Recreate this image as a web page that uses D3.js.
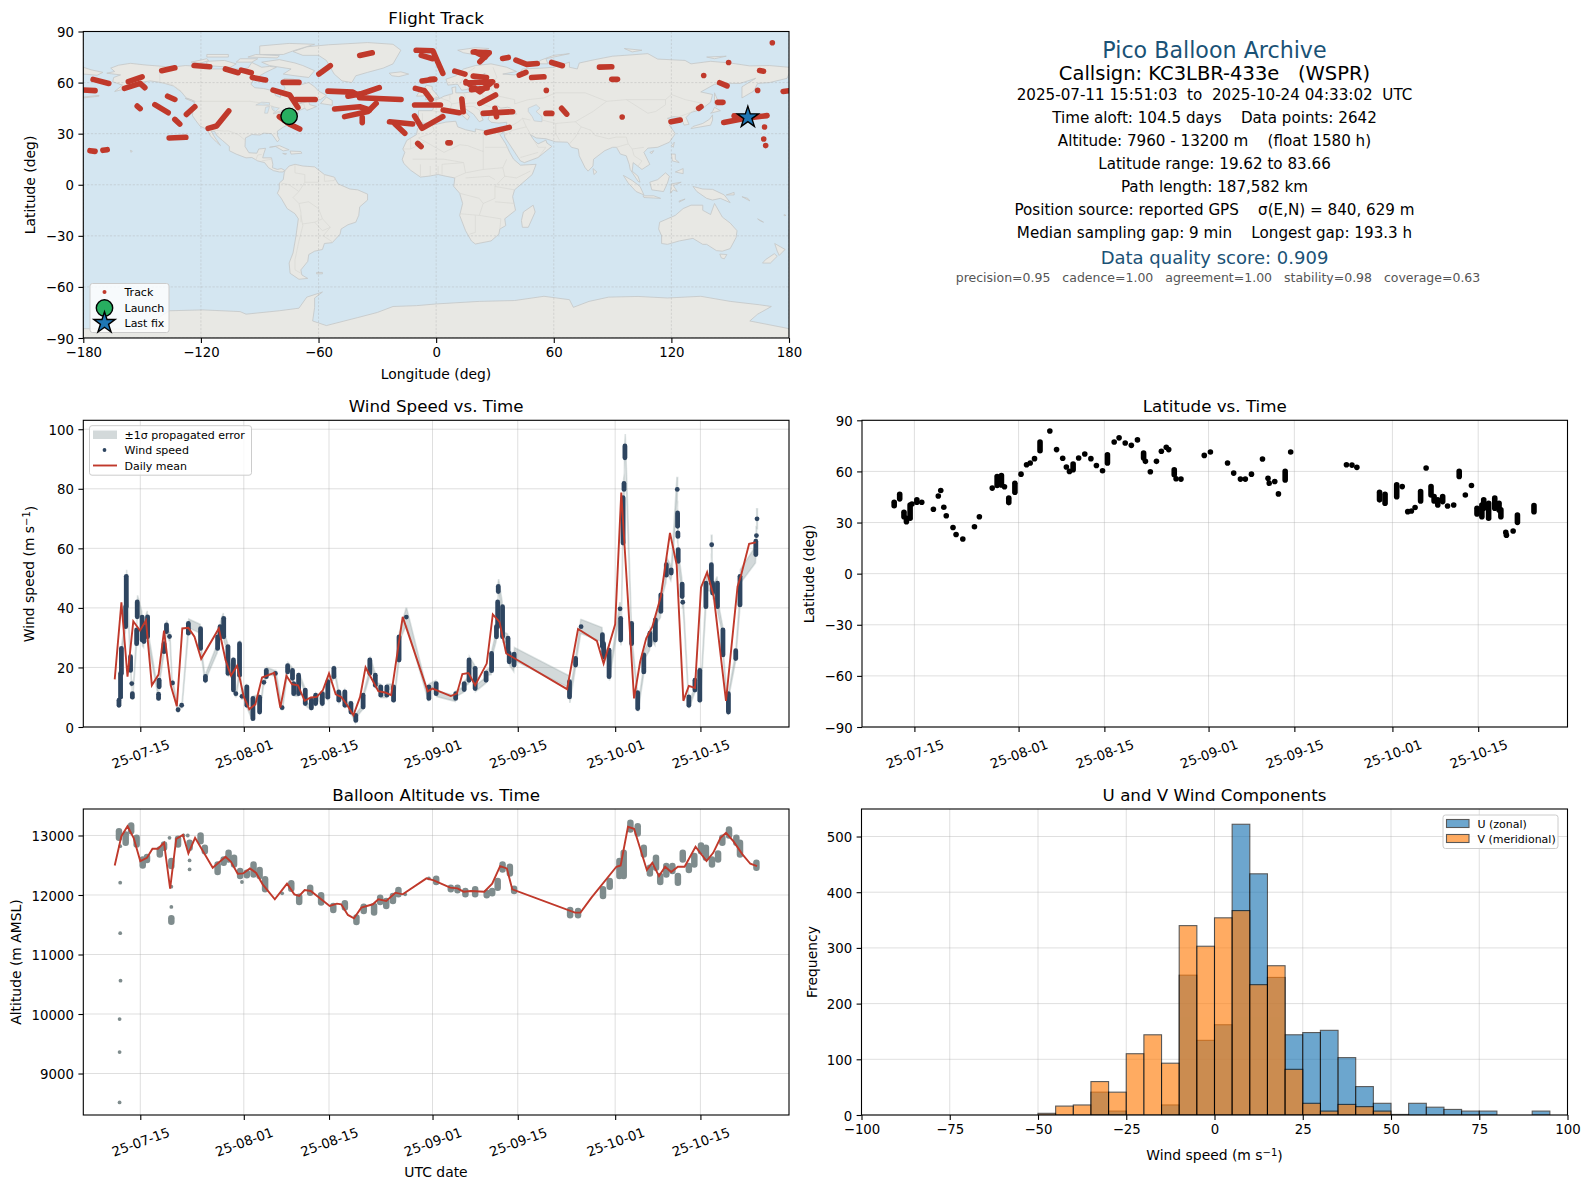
<!DOCTYPE html>
<html><head><meta charset="utf-8">
<script src="https://cdn.jsdelivr.net/npm/d3@7"></script>
<style>html,body{margin:0;padding:0;background:#fff}svg{display:block}text{font-family:"DejaVu Sans",sans-serif;fill:#000}</style>
</head><body><svg id="fig" width="1590" height="1189"></svg>
<script>
// ---------- DATA (day = day-of-July numbering, 32 = Aug 1, 63 = Sep 1, 93 = Oct 1) ----------
const dateTickDays=[15,32,46,63,77,93,107];
const dateTickLabels=["25-07-15","25-08-01","25-08-15","25-09-01","25-09-15","25-10-01","25-10-15"];
const lonTicks=[-180,-120,-60,0,60,120,180];
const latTicks=[-90,-60,-30,0,30,60,90];
const windTicks=[0,20,40,60,80,100];
const altTicks=[9000,10000,11000,12000,13000];
const histXTicks=[-100,-75,-50,-25,0,25,50,75,100];
const histYTicks=[0,100,200,300,400,500];
const launchPoint=[-75,40.2];
const lastFixPoint=[159,39.6];

const landPolygons=[
[[-168,65.5],[-164,66.5],[-166,68.5],[-162,70.2],[-156,71.3],[-148,70.3],[-141,69.7],[-135,69],[-128,70],[-120,69.5],[-115,68],[-108,68],[-100,68],[-96,68.5],[-94,71.8],[-89,69],[-85,69.5],[-81.5,69],[-87,66],[-90,64],[-93,62],[-94.5,59],[-92.5,57],[-88,56.5],[-82.5,55],[-82,52.5],[-79.5,51.3],[-79,54.5],[-77,56.5],[-78,59],[-77.5,62.4],[-73,62],[-69.5,61],[-69,58.8],[-65,60],[-62,57.5],[-60,55],[-56,52.5],[-59,50],[-66,50.2],[-70,47.5],[-65,49],[-64.5,47],[-61,46],[-64,44.5],[-66,43.7],[-67,45],[-70,43.5],[-70.5,41.7],[-74,40.5],[-75.5,38],[-76,35],[-78,33.8],[-81,31.5],[-81,29],[-80,26.5],[-81,25.2],[-82.7,28],[-84,30],[-88,30.3],[-90,29.2],[-94,29.5],[-97.3,27.5],[-97.5,22.5],[-95.5,18.8],[-91.5,18.5],[-90.5,21],[-87,21.4],[-88,18],[-88.5,15.8],[-84,15.8],[-83.3,12],[-83.5,10],[-81,9],[-79,9.5],[-77.3,8.5],[-78,7.5],[-80,7.5],[-83,8.3],[-85.5,10],[-87.5,13],[-91,14],[-94,16],[-97,15.8],[-102,18],[-105.5,20],[-105.5,22.5],[-109,26],[-112,29],[-113,31.3],[-114.8,31.5],[-113,28],[-110,23],[-112,25],[-115,28.5],[-117,32.5],[-120.5,34.5],[-122.5,37.5],[-124.3,40.5],[-124,46],[-123,49],[-127.5,51],[-130,54.5],[-134,58],[-140,60],[-146,61],[-151,60],[-153,58],[-158,56.5],[-164,54.8],[-160,58.5],[-165,60.5],[-164.5,63],[-161,64.5]],
[[-73,78.2],[-66,81],[-55,82.2],[-35,83.5],[-22,82.5],[-18,79],[-20,75],[-22,71],[-27,68.5],[-35,66],[-41,64],[-43,60],[-48,61],[-52,65],[-54,69],[-56,73],[-60,76],[-68,76]],
[[-80,73.5],[-72,71.5],[-68,70],[-62,67],[-65,63],[-72,64],[-78,65],[-74,68],[-85,70],[-89,72]],
[[-117,70],[-105,69],[-102,71],[-108,73],[-117,72.5]],
[[-125,72],[-117,74],[-116,73],[-120,71.5]],
[[-90,76.5],[-78,76.5],[-72,79],[-62,82.5],[-75,83],[-90,81.5]],
[[-96,75],[-81,74.5],[-80,75.8],[-92,76.5]],
[[-117,75],[-106,75],[-106,76.5],[-117,76.5]],
[[-102,72],[-94,72],[-91,74],[-100,74]],
[[-59,47.7],[-53,46.7],[-53,49.5],[-56,51.5]],
[[-128,50.7],[-123.5,48.5],[-125,50]],
[[-85,22],[-80,23],[-75,20.5],[-78,19.9],[-82,22.5]],
[[-74.5,19.8],[-69,19.5],[-68.5,18.5],[-74,18]],
[[-78.3,18.4],[-76.3,18.2],[-77,17.8]],
[[-156,20.2],[-155,19.8],[-155.6,19]],
[[-180,51.5],[-172,52.5],[-172,52],[-180,51]],
[[-77,8.5],[-75,11],[-72,12],[-68,11],[-62,10.5],[-57,6],[-52,4.5],[-50,0.5],[-44,-2.5],[-40,-3],[-35,-5.5],[-35,-9],[-39,-13],[-39.5,-18],[-41,-22],[-45,-23.5],[-48.5,-26],[-49,-29],[-53,-34],[-57,-34.5],[-58,-38],[-62,-39],[-65,-41],[-65.5,-45],[-69,-50],[-68.5,-53],[-65.5,-55],[-70,-55.5],[-74.5,-52],[-75,-46],[-73,-40],[-71.5,-30],[-70.3,-20],[-72,-17],[-76,-14],[-79,-8],[-81,-5],[-80,-2.5],[-80,1],[-78,3],[-77.5,7]],
[[-61,-51.5],[-58,-51.5],[-58,-52.3],[-61,-52.3]],
[[-6,35.8],[-1,35.2],[5,36.8],[10,37.3],[11,34],[15,32.3],[20,31],[20,32.8],[25,31.7],[32,31],[34.5,31.3],[32.5,29.5],[35.5,24],[37.5,19],[39.5,15],[43,11.5],[51,12],[49,6],[44,1],[40,-3],[39,-7],[40.5,-15],[35,-20],[35.5,-24],[32.5,-26],[32,-29],[28,-33],[20,-34.8],[18,-33],[15,-27],[12,-18],[13.5,-11],[12,-5],[9,-1],[9.5,4],[5,5],[1,6],[-4,5],[-8,4.5],[-13,8.5],[-16.5,12.5],[-17.3,15],[-16,19],[-17,21],[-15,26],[-10,29.5],[-9.5,33]],
[[49.5,-12],[50.5,-16],[47,-25],[44,-25],[43.5,-21],[44.5,-16]],
[[-9,37],[-6,36],[-2,36.8],[0,39],[3,42],[6,43],[9,44.3],[12,42],[16,38],[17,40],[13,45.5],[15,44.5],[19,41.5],[22,37],[24,38],[23,40.5],[26,41],[29,41],[35,42],[41,41.5],[38,45],[36.5,45.5],[33,45],[31,46.5],[28,44],[28,41.3],[27,40.3],[26.5,38.5],[28,36.7],[32,36.2],[36,36.7],[36,34],[34.5,31.3],[34.8,29.5],[35,28],[39,21],[43,14],[45,13],[52,16],[59,22.5],[56.5,24.5],[56,26.2],[52,24],[50,26],[48,29.5],[51,27.5],[56,27],[61,25.2],[67,25],[69,22],[72.5,21],[73,17],[76,10],[77.5,8],[80,11],[80.3,15],[86,20],[90,22],[92,22],[94,18],[97,17],[98.5,12],[99,9],[103,2],[104,1.5],[103,5],[100,8],[100.5,13],[105,9],[109,12],[106,19],[108,21.5],[113,22],[119,25],[122,30],[119,35],[122,37],[118,39],[121,40],[125,39.5],[126.5,35],[129,35.5],[127.5,39.5],[130,42.5],[135,44],[140,48.5],[141,53],[135,54.5],[142,59],[150,59.5],[155,59.5],[163,62.5],[156,57.5],[156,51],[162,55],[164,59.5],[170,60],[179,62.5],[180,65],[180,69],[170,70],[160,69.8],[150,71.5],[140,72.5],[130,71],[127,73],[113,73.8],[108,77],[100,76.3],[90,75.5],[81,73.5],[73,71.5],[72,68],[68,69],[68,72],[60,69],[54,68.5],[44,68],[43,66],[40,64.5],[34,65],[41,66.5],[36,69],[28,71],[20,70],[14,68],[10,64],[5,62],[6,58.5],[10,59],[11,59],[13,55.5],[16,56],[18,60],[21,63],[25,65.5],[21,60.5],[29,60],[23,59],[21,57],[19,54.5],[14,54],[10,54],[10,57.5],[8,57],[8.5,53.5],[4,52],[1.5,50.5],[-1.5,49.5],[-4.5,48.5],[-1,46],[-2,43.5],[-9,43.5]],
[[-180,65],[-173,64.3],[-170,66],[-176,67.5],[-180,69]],
[[-5.5,50],[1.5,51.2],[0,53.5],[-2,56],[-2,57.7],[-5,58.5],[-6,56.5],[-3,54],[-5,52]],
[[-10,52],[-6,52.2],[-6,55],[-8.5,55]],
[[-24,65.5],[-18,66.3],[-14,65],[-19,63.5],[-22.5,64]],
[[11,79],[20,80.5],[27,80],[18,76.7],[14,77.5]],
[[52,71],[57,71],[56,74],[68,77],[60,76],[53,73]],
[[96,80],[105,79],[100,78]],
[[138,75],[148,75.5],[142,74]],
[[142,54],[143.5,50],[143,46],[142,48],[142,52]],
[[130,33],[135,34],[140,35],[141,38],[141,41],[139.5,38.5],[136,36],[131,34.2]],
[[140,42],[145,43.5],[142,45.5],[141,43]],
[[120,23],[121.5,25],[121,22]],
[[109,19],[111,20],[110,18.3]],
[[80,9.5],[82,7.5],[80.5,6]],
[[120,18],[122,18],[122,15],[124,13],[120.5,14]],
[[122,7.5],[126,9.5],[126,6.5]],
[[95.5,5.5],[100,2.5],[104,-1],[106,-6],[102,-4],[98,1]],
[[105.5,-6.5],[111,-6.5],[114.5,-8],[106,-7.5]],
[[109,1.5],[113,3],[117,7],[119,5],[118,1],[116,-4],[110,-3]],
[[119.5,-5],[120,0.5],[125,1.5],[121,-0.5],[123,-4],[121,-3]],
[[131,-1],[136,-2.5],[141,-2.7],[147,-6],[150,-10.5],[145,-8],[141,-9],[138,-8],[133,-4]],
[[148,-6],[152,-4.5],[152,-6]],
[[156,-7],[160,-9.5],[159,-8]],
[[164,-20],[167,-22],[165,-21]],
[[177.5,-17.5],[178.5,-18],[177.5,-18.2]],
[[124,-9.5],[127,-8.4],[124,-10.2]],
[[114,-22],[122,-18],[126,-14],[130,-12],[136,-12],[136,-15],[140,-17.5],[142,-11],[146,-19],[150,-22.5],[153.5,-27],[153,-31],[150,-37.5],[146,-39],[143,-38.7],[138,-35],[136,-35],[131,-31.5],[124,-33],[118,-35],[115,-34.5],[115,-30],[113.5,-26]],
[[144.7,-40.7],[148.3,-41],[147,-43.5],[145.5,-43]],
[[172.7,-34.5],[178,-38],[175,-41.5],[174,-39]],
[[172.5,-40.5],[174,-42],[170.5,-46],[166.5,-46],[168,-44]],
[[-180,-84.5],[-148,-85],[-143,-79],[-136,-74],[-119,-73.5],[-100,-74.5],[-97,-76],[-80,-74],[-70,-72.5],[-66,-66],[-58,-63],[-62,-66.5],[-62,-72],[-63,-80],[-56,-82.7],[-40,-78],[-30,-75],[-22,-71.5],[-10,-71],[0,-70],[22,-68.5],[40,-68],[55,-65.5],[68,-67.5],[70,-72],[78,-68.5],[88,-66],[103,-65.6],[118,-66.5],[135,-65.5],[150,-68.5],[165,-70.5],[171,-71.5],[164,-76],[160,-80],[180,-84.5],[180,-90],[-180,-90]]
];
const lakePolygons=[
[[47,45],[51,47],[53,45],[51,43],[54,40],[54,37],[50,37.5],[49,40],[47,43]],
[[-92,46.8],[-85,46.7],[-85,48.2],[-89,48.5]],
[[-87.5,42],[-86,42],[-85,46],[-87,45.5]],
[[-84,46],[-80,45],[-82,43],[-83.5,44]],
[[-83,41.6],[-79,42.7],[-79,43.6],[-76.3,44],[-76.3,43.4],[-79.8,43.2],[-83,42.2]]
];
const borderLines=[
[[-123,49],[-95,49],[-89,48],[-83,46],[-82.5,42],[-79,43],[-75,45],[-70,46],[-67.5,47.5],[-67,45]],
[[-141,69.7],[-141,60],[-135,59],[-130,55]],
[[-117,32.5],[-108,31.5],[-106,31.7],[-101,29.5],[-97.3,26]],
[[-92,14.5],[-91,17.5],[-89,17.8]],[[-89,14],[-84,15]],
[[-72,12],[-72,7],[-67,6],[-67,1.5]],[[-79,1],[-75,0],[-70,-4]],
[[-60,5],[-60,1.5],[-67,1.5],[-70,-4],[-73,-7.5],[-70,-11],[-65,-10],[-60,-14],[-58,-20],[-54,-25],[-57.6,-30],[-53,-33.5]],
[[-57,6],[-57,2],[-52,2.5],[-51.5,4.5]],[[-70,-11],[-69,-16],[-69,-22]],
[[-69,-18],[-68,-24],[-70,-33],[-72,-44],[-72,-50],[-69,-52]],
[[-62,-22],[-58,-27],[-54,-25]],[[-68,-23],[-62,-22],[-58,-20]],
[[-9,27.5],[-3,30],[-1,32],[-2,35]],[[-9,27.5],[-5,25],[4,19],[12,23.5],[16,23],[24,19.5],[24,32]],
[[25,22],[37,22]],[[-17,21],[-13,21],[-13,27]],[[-13,21],[-6,25]],[[-12,15],[-5,15],[4,15],[14,13]],
[[3,6],[3,12],[14,13]],[[14,13],[15,7],[9,4]],[[15,7],[24,9],[34,10],[36,15]],[[24,9],[24,20]],
[[34,10],[35,5],[41,4],[48,8]],[[35,5],[30,-1],[30,-8],[24,-11],[22,-18],[12,-17]],
[[12,-5],[22,-8],[24,-11]],[[30,-1],[40,-3]],[[30,-10],[40,-11]],[[22,-18],[33,-20],[32.5,-26]],
[[20,-18],[20,-28],[17,-29]],[[15,4],[27,5],[30,3]],[[-8,5],[-8,12]],[[-3,5],[-3,11]],[[1,6],[1,11]],
[[-2,43.5],[3,42.5]],[[-7,42],[-7,37]],[[2,51],[7,49],[8,47.5],[7,44]],[[7,53.5],[7,50]],
[[14,54],[15,51],[13,48.5],[8,47.5]],[[13,47],[17,48],[23,48],[24,52],[23,54.5]],
[[24,52],[32,52],[40,50],[40,47.5]],[[22,48],[28,45.5]],[[13,46],[19,46],[22,44],[23,41],[26,41.7]],
[[28,59],[28,56],[32,52]],[[29,60],[31,63],[29,69]],[[12,59],[15,65],[20,69]],
[[40,47.5],[47,50],[55,51],[61,54],[76,54],[87,49],[97,50],[108,50],[117,50],[120,53],[127,50],[135,48],[131,43]],
[[87,49],[80,43],[74,39],[71,37],[61,36],[54,38]],[[61,36],[61,30],[63,26]],[[71,37],[74,34],[71,28],[68,24]],
[[74,34],[79,32],[81,29],[88,27],[92,28],[97,28],[98,24],[92,22]],[[98,24],[100,21],[106,22]],
[[100,21],[101,17],[105,14],[103,11]],[[97,50],[108,42],[112,43],[117,47],[117,50]],[[124,40],[130,42.5]],
[[44,39],[46,34],[48,30]],[[36,33],[42,37],[44,39],[48,38]],[[46,34],[39,32],[35,29]],[[50,26],[52,22],[56,22],[52,16]],[[43,16],[52,19]]
];
const trackPieces=[
[[-180,55.6],[-174,55.3]],[[-175,61.9],[-167,59.5]],[[-157,60.5],[-150,63.4]],[[-159,56.6],[-151,59.5],[-148.6,57]],
[[-152.5,46.2],[-151,44.7]],[[-143.5,47],[-136.7,42.3]],[[-137,52],[-133.3,50.1]],[[-133.3,38.4],[-130.8,35.7]],
[[-136.2,27.5],[-127.7,27.9]],[[-127.4,41.3],[-123.1,45.8]],[[-176.6,20],[-174,19.6]],[[-170,20.2],[-167.8,20.6]],
[[-140,67],[-133.3,68.7]],[[-123.5,70],[-115.5,69.3]],[[-107.5,68],[-101,65.8]],[[-99.4,67.3],[-94.3,65.8]],
[[-93.8,63],[-87,61.5]],[[-78,60.1],[-70,60.1]],[[-83.2,55.6],[-74.7,52.7],[-70.5,45.4]],[[-71.7,50.1],[-61.7,50.1]],
[[-116.3,33.1],[-112,34.5],[-105.8,43.3]],[[-80,40],[-74.7,35.5],[-69.6,32.7]],[[-59.8,65],[-54,69.9]],[[-39,75.9],[-32.6,77.5]],
[[-55.2,55],[-42.5,54.4],[-40,52.7],[-29,57]],[[-45,52],[-39,53.3]],[[-39,51.1],[-17.9,50.1]],[[-51.8,44.5],[-39,45.8],[-34,43.9]],
[[-46.7,40],[-34.8,43],[-30.6,47.8]],[[-37.7,39.4],[-37.7,36.5]],[[-23.8,37],[-12,35.7]],[[-21,35.7],[-16,30.2]],
[[-11,40.4],[-7.2,33.1],[3.4,40]],[[-11,46.8],[2.2,46.8]],[[-10.6,56.6],[-6,55.2],[-2.6,50.1]],[[-7.2,60.9],[-1,61.9]],
[[-10.2,79],[-1.7,78.7],[0.8,72.2],[3.4,65.4]],[[-7.6,76],[-1.7,74]],[[-9.4,24.3],[-7.7,22.4]],[[6,24.7],[7.2,24.7]],
[[3.6,43.9],[11.8,42.3]],[[9.5,66.7],[14.7,65]],[[-3,61.9],[-0.7,61.9]],[[18.9,78],[27.1,77.5],[22.3,72.2]],[[20,78],[25,75]],
[[33.9,74.2],[36.8,74.8]],[[40.7,73.2],[46.2,70.7],[51.6,71.2]],[[58.9,71.8],[64.4,69.9]],[[83.3,69.1],[89.6,69.3]],[[89.6,61.9],[92.5,61.9]],
[[42.4,64.4],[45.8,66]],[[48.7,63],[55,63.4]],[[18.9,63.8],[25.7,63]],[[15.2,60.5],[22.3,54.6],[28.8,60.5],[15.2,59.8]],[[18,55.8],[26,56.8]],
[[30.8,58.1],[30.8,58.1]],[[22.3,47.8],[30.3,52.7]],[[13.1,50.3],[13.8,42.9]],[[24,41.9],[39,42.9]],[[30,44.9],[30.8,40]],
[[25.7,30.6],[37.3,33.7]],[[6.6,24.7],[6.6,24.7]],[[56,41.9],[59,41.9]],[[64,44.9],[66.6,41.5]],[[56.2,55.4],[56.2,55.4]],
[[94.9,39.8],[94.9,39.8]],[[119.8,37],[124.5,38]],[[133.9,44.9],[135.1,45.8]],[[143.6,48.4],[146.3,48.4]],[[144.6,59.9],[148.4,58.1]],
[[136.5,64.2],[136.5,64.2]],[[149.2,71.8],[149.2,71.8]],[[165,67.1],[167,66.7]],[[164,55.4],[164,55.4]],[[171.5,83.4],[171.5,83.4]],
[[177,54.8],[180,55.2]],[[146.7,36.6],[157.8,39],[168.8,40.6]],[[152,40.5],[159,39]],[[167.5,33.9],[167.5,33.9]],[[167.1,26.9],[167.1,26.9]],[[168.1,23],[168.1,23]]
];
// day, speed at start of burst, speed at end of burst, propagated 1-sigma
const windRuns=[
[11.5,7.3,9,.8],[11.76,10,18,1.2],[11.9,18,26.4,1.5],[12.6,33.7,40.4,2],[12.7,40.4,50.6,2.2],[13.4,23.6,19,1.5],[13.6,14.6,14.6,1],[13.7,11.2,10,.8],
[14.4,28,32.6,2],[14.5,37,42,2.2],[15.3,36.9,29.2,2],[15.6,28.7,33.7,2],[16.2,37,30.3,2],[18,11,9.6,.8],[18.1,13.5,15.7,1],[18.9,25.3,28,1.5],
[19.3,32,34.3,1.5],[19.8,30.4,30.4,1.5],[20.3,14.8,14.8,1],[21.2,5.8,5.8,.8],[21.8,7.3,7.3,.8],[22.9,31.5,34.8,1.5],[24.9,33,26.4,1.5],[25.7,15.7,17,1],
[27.7,26.4,30.3,1.5],[28.1,30,33.7,1.8],[28.7,36.5,30.3,1.8],[29.4,27,18,1.2],[30.3,22.5,12.4,1],[30.7,11.2,11.2,1],[31.3,17.4,28,1.2],[31.7,10.3,10.3,1],
[32.5,13.5,7.3,1],[33.5,2.8,9.6,.8],[34.6,10,5,.8],[35.3,15,15,1],[35.7,16.9,19,1],[37.2,18,18,1],[38.3,6.5,6.5,.8],[39.2,18.5,20.6,1],[40,19,16.3,1],
[40.2,14.6,11.2,.8],[41,11.2,17.4,.9],[42.1,12.4,7.9,.8],[43.1,6.4,9,.7],[43.8,7.9,10.7,.7],[44.9,7.9,11.2,.8],[45.8,10,15.2,.8],[46.8,16.9,19.7,1],
[47.6,11.8,9,.8],[48.6,11.8,7.3,.8],[49.6,7.9,5,.7],[50.4,2.2,3.9,.7],[51.6,6.7,10.7,.8],[52.7,18,22.5,1.2],[53.6,17.4,14,1],[54.5,13.5,10.7,.9],
[55.5,10.7,13.5,.9],[56.6,13.5,9,.9],[57.5,22.5,30.3,1.5],[58.7,36.9,36.9,3],[62.4,9.6,13.5,1],[63.6,14.6,11.2,1],[66.8,9.6,11.2,1],[68.2,12.6,14.6,.9],
[69,15.7,22.5,1.2],[70,19.7,12.9,1],[71.8,15.7,18.2,1],[72.7,18.9,24.7,1.3],[73.5,30.3,33.7,1.6],[73.7,33.7,42,2],[73.8,45.5,47.2,2.5],[74.5,40.4,30.3,1.8],
[75.4,29.8,25.3,1.4],[75.6,24.7,21.9,1.2],[76.4,20.8,24.5,2.2],[85.5,15.2,10.1,2],[86.5,20.8,23,1.5],[87.4,33.7,33.7,2.4],[90.9,31,27,2.4],[91.1,28,23.6,1.5],
[92,25.8,16.9,1.3],[93.8,39.7,39.7,2],[93.9,36.5,29.2,1.8],[94.3,61.8,77,3],[94.45,79.8,81.8,3.5],[94.6,90.4,94.4,4],[95.7,34.8,28,1.8],[96.7,11.5,6.2,1],
[97.7,18.5,24.2,1.5],[98.7,27.5,31.5,1.8],[99.6,29.2,36,1.8],[100.5,38.8,44.4,2],[101.4,51,54.5,2.5],[102.2,51.7,52.8,2.5],[103.2,79.8,79.8,4],[103.25,71.9,67.4,3.5],
[103.3,65.2,64,3],[103.35,59.6,55.6,2.8],[104,48,43.8,2.2],[104.1,41.9,41.9,2],[105.1,10.1,7.3,1],[106.1,12.4,15.7,1],[106.9,19,9,1],[107.9,40.4,48.3,2.4],
[108.8,48.3,54.5,2.8],[108.85,61.2,61.2,3.2],[109,48.3,45,2.2],[109.8,48.3,40.4,2.2],[110.7,32.6,24.2,1.5],[111.6,5,11.2,1],[112.8,23,25.6,1.5],[113.5,41,50.6,2.3],
[116.1,57.9,62.4,2.8],[116.2,64.3,64.3,3],[116.3,69.9,69.9,3.4]
];
const windDailyDays=[10.8,11.9,12.9,13.85,14.95,15.93,16.9,18,18.9,20,21,21.9,22.9,23.9,25,27.9,29,29.9,30.9,32,32.9,33.9,35,37,38,39,39.9,40.9,42,43,44,45,46,47.1,48,49,50,51.1,52,54.1,55.2,56.2,58.1,62.2,63,66,67,67.9,68.9,70,71.9,72.9,74,75.1,85.1,86.9,90,91.1,93,94,96.1,97.1,98.1,99.1,100.5,102,103.1,104.2,105.1,106.1,107.1,108.1,109.2,111.2,113.1,113.7,115,116.1];
const windDailyMean=[16,41.9,16.9,35.5,32.4,35.8,14,17.6,32.4,14,7,33.1,33.3,30.3,22.9,33.1,22.5,17.3,20.6,10.1,6,7.6,16.6,18.2,6.5,17.2,14.4,14,8.8,9.9,10.1,12.4,18,11,10.1,7.3,3.9,10.1,20,12,11.6,10.7,37,12,12.9,10.4,11.2,17.8,18.1,14,21.3,37.8,35.3,24.7,12.7,32.9,28.9,21.3,34.5,78.7,9.6,21.9,29.8,33.7,43.8,65.2,54.5,8.8,13.8,13.1,46.9,52,43.8,8.8,47.2,51.1,61.5,62];
// day, lower altitude, upper altitude of each burst of fixes
const altRuns=[
[11.5,12961,13073],[11.7,12821,12821],[11.7,12207,12207],[11.7,11358,11358],[11.75,10560,10560],[11.6,9915,9915],[11.6,9360,9360],[11.6,8515,8515],
[12.6,12877,13017],[13.5,13073,13168],[14.4,12850,12961],[15.4,12497,12598],[16.1,12587,12637],[18.2,12682,12765],[18.9,12793,12850],[19.8,12961,12961],
[20.1,12486,12570],[20.1,12140,12140],[20.1,11800,11800],[20.1,11550,11610],[21.2,12850,12944],[22.1,13000,13000],[22.8,13000,13000],[23.1,12793,12877],[23.1,12581,12581],[23.1,12430,12430],
[24.9,12905,13000],[25.6,12737,12793],[27.7,12385,12514],[28.7,12542,12598],[29.5,12598,12709],[30.4,12514,12626],[31.4,12318,12402],[31.7,12218,12218],[32.5,12330,12374],
[33.6,12346,12514],[34.6,12318,12419],[35.5,12095,12263],[38.3,12028,12028],[39.8,12106,12196],[41.1,11883,11972],[42.9,12039,12123],[44.7,11872,11994],[46.7,11749,11816],
[48.6,11788,11860],[50.5,11548,11620],[51.7,11732,11804],[53.4,11704,11816],[54.4,11883,11955],[55.4,11816,11900],[56.5,11900,11983],[57.4,12011,12084],[58.5,12011,12011],
[62.4,12279,12279],[63.6,12218,12274],[66,12095,12123],[67.1,12080,12120],[68.4,12011,12067],[70,12011,12095],[71.9,11994,12039],[72.8,12028,12067],[73.7,12123,12235],[74.5,12430,12514],
[75.7,12363,12475],[76.4,12067,12106],[85.6,11660,11749],[86.9,11660,11732],[91,11983,12095],[92.1,12140,12235],[93.7,12318,12570],[94.4,12318,12709],[95.5,13100,13212],[96.7,13033,13156],
[97.7,12682,12793],[98.7,12363,12458],[99.7,12458,12626],[100.4,12218,12318],[101.4,12346,12486],[102.4,12402,12486],[103.3,12207,12318],[104.1,12598,12709],[105.1,12419,12486],
[106,12514,12654],[107.1,12737,12832],[107.9,12626,12793],[108.9,12514,12598],[109.9,12598,12698],[110.6,12877,12961],[111.7,13000,13100],[112.9,12877,12961],[113.5,12682,12877],[116.2,12458,12542]
];
const altDailyDays=[10.8,11.9,12.9,13.9,15,16.1,17,17.9,18.9,19.9,20.9,22,22.9,24,26.9,29,29.9,31,31.9,33,34,35.1,37.1,39.1,40.3,41.1,42,43,46.1,47.3,48,49.1,50.1,51.3,53.2,54.1,55.4,56.9,58.1,62,63.2,65.9,67.1,68.1,69.3,71.5,72.8,74.1,75.2,76.1,86.4,87.3,89.1,93.2,93.9,95.1,96.1,98.2,99.1,100.2,101.2,102.2,103.3,104.4,106.2,108,109.1,110.3,111.2,112.4,113.9,115.2,116.3];
const altDailyMean=[12497,12989,13156,12961,12570,12626,12777,12777,12877,12106,12944,13011,12698,12961,12458,12642,12559,12358,12363,12447,12374,12179,11927,12190,12011,11983,12084,12067,11816,11855,11844,11665,11609,11788,11844,11927,11900,12039,12011,12279,12246,12123,12112,12056,12067,12056,12190,12486,12447,12095,11704,11704,11955,12475,12497,13145,13112,12419,12542,12318,12475,12385,12475,12475,12810,12570,12709,12961,13045,12905,12682,12525,12486];
// day, lower latitude, upper latitude of each burst of fixes
const latRuns=[
[11.7,39.9,41.9],[12.6,43.9,46.6],[13.3,33.4,36],[13.7,30.5,32.5],[14.3,32.5,40.3],[14.6,40.9,40.9],[15.4,41.9,43.3],[16.2,41.9,41.9],[18.1,37.8,37.8],[18.9,45.6,45.6],[19.3,48.8,48.8],
[19.8,39,39],[20.2,34,34],[21.3,27.1,27.1],[21.8,23,23],[22.9,20.3,20.3],[24.8,27.5,27.5],[25.6,33.4,33.4],[27.7,50.2,50.2],[28.5,51.7,57],[29.2,52,57.6],[29.7,51,51],[30.4,41.7,44.3],
[31.4,47.8,53],[32.4,58.4,58.4],[33.3,63.9,63.9],[33.9,64.9,64.9],[34.6,67.5,67.5],[35.5,72.2,77.3],[37.1,83.7,83.7],[38.2,72.8,72.8],[39.2,67.7,67.7],[39.8,62.6,62.6],[40.3,60,60],[40.9,61,64.3],
[41.8,67.9,67.9],[42.8,70.2,70.2],[43.8,67.5,67.5],[44.7,63.5,63.5],[45.7,60.4,60.4],[46.5,65,69.8],[47.6,77.3,77.3],[48.4,79.7,79.7],[49.4,76.7,76.7],[50.4,75.3,75.3],[51.4,78.5,78.5],[52.4,67.9,70.8],
[52.7,65.9,65.9],[53.5,59.8,59.8],[54.5,65.9,65.9],[55.3,71.8,71.8],[56.1,74.2,74.2],[56.5,72.8,72.8],[57.4,58,61],[57.7,55.7,55.7],[58.5,55.5,55.5],[62.3,69.4,69.4],[63.3,71.4,71.4],[66.1,64.9,64.9],
[67.1,59,59],[68.2,55.5,55.5],[69,55.5,55.5],[70,58.4,58.4],[71.8,67.3,67.3],[72.7,56,56],[72.9,53.1,53.1],[73.8,54.1,54.1],[74.4,46.8,46.8],[75.5,55,60],[76.4,71.4,71.4],[85.5,63.9,63.9],[86.4,63.7,63.7],
[87.2,62.4,62.4],[90.9,43.3,47.8],[91.8,41.3,46.6],[93.7,45.2,52.1],[94.6,51.1,51.1],[95.5,36.4,36.4],[96.1,36.8,36.8],[96.7,38.8,38.8],[97.6,42.7,48.2],[98.5,62,62],[99.3,46.2,51.1],[99.8,42.7,45.2],
[100.4,40.3,43.3],[101.2,42.3,45.2],[102,39.7,39.7],[103,40.3,40.3],[103.9,57,60],[104.9,46.2,46.2],[105.9,51.7,51.7],[106.8,35,38.4],[107.6,33.4,40.3],[107.9,38.4,43.3],[108.7,32.5,41.3],[109.7,38.4,44.3],
[110.4,37.4,41.3],[110.7,33.4,37.4],[111.5,24.2,24.2],[111.6,22.6,22.6],[112.7,25,25],[113.4,30.1,34.4],[116.1,36.4,39.9]
];
const histBinStarts=[-50,-45,-40,-35,-30,-25,-20,-15,-10,-5,0,5,10,15,20,25,30,35,40,45,50,55,60,65,70,75,80,85,90];
const histBinWidth=5;
const uCounts=[0,0,0,41,7,0,0,18,251,134,162,522,433,247,144,148,152,103,51,21,1,21,14,10,7,7,0,0,7];
const vCounts=[3,16,18,60,41,110,144,93,340,303,354,367,234,268,82,21,7,19,15,7,0,0,0,0,0,0,0,0,0];
const panelLines=[
["Pico Balloon Archive",22.2,"#1a5276",50.7,1214.5],
["Callsign: KC3LBR-433e   (WSPR)",19.5,"#000",73,1214.5],
["2025-07-11 15:51:03  to  2025-10-24 04:33:02  UTC",15.15,"#000",94.3,1214.5],
["Time aloft: 104.5 days    Data points: 2642",15.15,"#000",117.6,1214.5],
["Altitude: 7960 - 13200 m    (float 1580 h)",15.15,"#000",141,1214.5],
["Latitude range: 19.62 to 83.66",15.15,"#000",163.5,1214.5],
["Path length: 187,582 km",15.15,"#000",187,1214.5],
["Position source: reported GPS    σ(E,N) = 840, 629 m",15.15,"#000",210,1214.5],
["Median sampling gap: 9 min    Longest gap: 193.3 h",15.15,"#000",233,1214.5],
["Data quality score: 0.909",18,"#1a5276",257.5,1214.5],
["precision=0.95   cadence=1.00   agreement=1.00   stability=0.98   coverage=0.63",12.5,"#555",278,1218]
];
// ---------- DRAWING ----------
const svg=d3.select("#fig");
const RED="#c0392b",TICK=13.3,LABEL=13.9;
const dt=d=>new Date(Date.UTC(2025,6,1)+(d-1)*864e5);
const fmtNum=d=>String(d).replace("-","\u2212");
const defs=svg.append("defs");
let clipId=0;
function panel(b,title){
  const g=svg.append("g");
  const id="c"+(++clipId);
  defs.append("clipPath").attr("id",id).append("rect").attr("x",b.l).attr("y",b.t).attr("width",b.r-b.l).attr("height",b.b-b.t);
  const bg=g.append("g"),plot=g.append("g").attr("clip-path",`url(#${id})`),front=g.append("g");
  front.append("text").attr("x",(b.l+b.r)/2).attr("y",b.t-8).attr("text-anchor","middle").attr("font-size",16.7).text(title);
  return {g,bg,plot,front};
}
function grid(sel,b,xs,ys,x,y,col,w,dash,op){
  sel.selectAll(null).data(xs).join("line").attr("x1",d=>x(d)).attr("x2",d=>x(d)).attr("y1",b.t).attr("y2",b.b)
    .attr("stroke",col).attr("stroke-width",w).attr("stroke-opacity",op).attr("stroke-dasharray",dash);
  sel.selectAll(null).data(ys).join("line").attr("y1",d=>y(d)).attr("y2",d=>y(d)).attr("x1",b.l).attr("x2",b.r)
    .attr("stroke",col).attr("stroke-width",w).attr("stroke-opacity",op).attr("stroke-dasharray",dash);
}
function axes(p,b,x,y,xv,xf,yv,yf,rot){
  const ax=p.front.append("g").attr("transform",`translate(0,${b.b})`).call(d3.axisBottom(x).tickValues(xv).tickFormat(xf).tickSizeOuter(0).tickSize(4.9).tickPadding(4.5));
  const ay=p.front.append("g").attr("transform",`translate(${b.l},0)`).call(d3.axisLeft(y).tickValues(yv).tickFormat(yf).tickSizeOuter(0).tickSize(4.9).tickPadding(4.5));
  [ax,ay].forEach(a=>{a.attr("font-family",null).attr("font-size",null);a.select(".domain").remove();
    a.selectAll("text").attr("font-size",TICK).attr("fill","#000");a.selectAll("line").attr("stroke","#000").attr("stroke-width",1.1);});
  ay.selectAll("text").attr("dy","0.38em");
  if(rot)ax.selectAll("text").attr("y",0).attr("dy","0.35em").attr("text-anchor","middle").attr("transform","translate(0,27) rotate(-20)");
  p.front.append("rect").attr("x",b.l).attr("y",b.t).attr("width",b.r-b.l).attr("height",b.b-b.t).attr("fill","none").attr("stroke","#000").attr("stroke-width",1.1);
}
const xlabel=(p,x,y,t)=>p.front.append("text").attr("x",x).attr("y",y).attr("text-anchor","middle").attr("dy","0.35em").attr("font-size",LABEL).text(t);
const ylabel=(p,x,y,t)=>p.front.append("text").attr("transform",`translate(${x},${y}) rotate(-90)`).attr("text-anchor","middle").attr("dy","0.35em").attr("font-size",LABEL).text(t);
function legendBox(p,x,y,w,h){p.front.append("rect").attr("x",x).attr("y",y).attr("width",w).attr("height",h).attr("rx",2.5).attr("fill","#fff").attr("fill-opacity",.8).attr("stroke","#ccc").attr("stroke-width",1);}
const legendText=(p,x,y,t)=>p.front.append("text").attr("x",x).attr("y",y).attr("dy","0.35em").attr("font-size",11).attr("fill","#111").text(t);

// Map
{
 const b={l:83.3,r:789,t:31.5,b:338};
 const p=panel(b,"Flight Track");
 const x=d3.scaleLinear().domain([-180,180]).range([b.l,b.r]),y=d3.scaleLinear().domain([-90,90]).range([b.b,b.t]);
 p.plot.append("rect").attr("x",b.l).attr("y",b.t).attr("width",b.r-b.l).attr("height",b.b-b.t).attr("fill","#d4e6f1");
 const line=d3.line().x(d=>x(d[0])).y(d=>y(d[1]));
 p.plot.selectAll(null).data(landPolygons).join("path").attr("d",d=>line(d)+"Z").attr("fill","#e8e8e4").attr("stroke","#c4c6c6").attr("stroke-width",.8).attr("stroke-linejoin","round");
 p.plot.selectAll(null).data(lakePolygons).join("path").attr("d",d=>line(d)+"Z").attr("fill","#d4e6f1").attr("stroke","#c4c6c6").attr("stroke-width",.6);
 p.plot.selectAll(null).data(borderLines).join("path").attr("d",line).attr("fill","none").attr("stroke","#d8d8d4").attr("stroke-width",.7);
 grid(p.plot.append("g"),b,lonTicks,latTicks,x,y,"#aaa",.7,"2.2,1.6",.5);
 p.plot.selectAll(null).data(trackPieces).join("path").attr("d",line).attr("fill","none").attr("stroke",RED).attr("stroke-width",5.6).attr("stroke-linecap","round").attr("stroke-linejoin","round");
 p.plot.append("circle").attr("cx",x(launchPoint[0])).attr("cy",y(launchPoint[1])).attr("r",8.2).attr("fill","#27ae60").attr("stroke","#000").attr("stroke-width",1.4);
 const star=d3.symbol(d3.symbolStar).size(140)();
 p.plot.append("path").attr("d",star).attr("transform",`translate(${x(lastFixPoint[0])},${y(lastFixPoint[1])})`).attr("fill","#1f77b4").attr("stroke","#000").attr("stroke-width",1.4);
 axes(p,b,x,y,lonTicks,fmtNum,latTicks,fmtNum,false);
 xlabel(p,436,374,"Longitude (deg)");ylabel(p,30.5,185,"Latitude (deg)");
 legendBox(p,90,283.5,79,49);
 p.front.append("circle").attr("cx",104.5).attr("cy",292).attr("r",2).attr("fill",RED);
 p.front.append("circle").attr("cx",104.5).attr("cy",308).attr("r",8.2).attr("fill","#27ae60").attr("stroke","#000").attr("stroke-width",1.4);
 p.front.append("path").attr("d",star).attr("transform","translate(104.5,323)").attr("fill","#1f77b4").attr("stroke","#000").attr("stroke-width",1.4);
 legendText(p,124.5,292,"Track");legendText(p,124.5,308,"Launch");legendText(p,124.5,323,"Last fix");
}
// Info panel
svg.append("g").selectAll("text").data(panelLines).join("text").attr("x",d=>d[4]).attr("y",d=>d[3]).attr("dy","0.35em").attr("text-anchor","middle")
  .attr("font-size",d=>d[1]).style("fill",d=>d[2]).style("white-space","pre").attr("xml:space","preserve").text(d=>d[0]);

const tickDates=dateTickDays.map(dt);
const dateFmt=(d,i)=>dateTickLabels[i];
// Wind
{
 const b={l:83.3,r:789,t:420.3,b:727};
 const p=panel(b,"Wind Speed vs. Time");
 const x=d3.scaleUtc().domain([dt(5.64),dt(121.55)]).range([b.l,b.r]),y=d3.scaleLinear().domain([0,103]).range([b.b,b.t]);
 grid(p.bg,b,tickDates,windTicks,x,y,"#b0b0b0",1,null,.4);
 const band=[];windRuns.forEach(r=>{band.push({d:r[0]-.06,v:r[1],s:r[3]});band.push({d:r[0]+.06,v:r[2],s:r[3]});});
 const area=d3.area().x(d=>x(dt(d.d))).y0(d=>y(d.v-d.s)).y1(d=>y(d.v+d.s));
 p.plot.append("path").attr("d",area(band)).attr("fill","#95a5a6").attr("fill-opacity",.42).attr("stroke","#95a5a6").attr("stroke-opacity",.3).attr("stroke-width",1.6);
 p.plot.selectAll(null).data(windRuns).join("line").attr("x1",d=>x(dt(d[0]))).attr("x2",d=>x(dt(d[0]))).attr("y1",d=>y(d[1])).attr("y2",d=>y(d[2]))
  .attr("stroke","#2e4560").attr("stroke-width",4.8).attr("stroke-linecap","round");
 p.plot.append("path").datum(windDailyDays).attr("d",d3.line().x(d=>x(dt(d))).y((d,i)=>y(windDailyMean[i]))).attr("fill","none").attr("stroke",RED).attr("stroke-width",1.9);
 axes(p,b,x,y,tickDates,dateFmt,windTicks,fmtNum,true);
 const yl=ylabel(p,29.5,574,"Wind speed (m s");yl.append("tspan").attr("dy","-0.4em").attr("font-size",10).text("\u22121");yl.append("tspan").attr("dy","0.4em").text(")");
 legendBox(p,89.5,425.7,162,49.5);
 p.front.append("rect").attr("x",93).attr("y",430.5).attr("width",24).attr("height",8.5).attr("fill","#95a5a6").attr("fill-opacity",.42);
 p.front.append("circle").attr("cx",104.5).attr("cy",450).attr("r",1.9).attr("fill","#2e4560");
 p.front.append("line").attr("x1",93).attr("x2",117).attr("y1",465.5).attr("y2",465.5).attr("stroke",RED).attr("stroke-width",1.9);
 legendText(p,124.5,435,"\u00b11σ propagated error");legendText(p,124.5,450,"Wind speed");legendText(p,124.5,466,"Daily mean");
}
// Latitude
{
 const b={l:862,r:1567.5,t:420.3,b:727};
 const p=panel(b,"Latitude vs. Time");
 const x=d3.scaleUtc().domain([dt(6.45),dt(121.57)]).range([b.l,b.r]),y=d3.scaleLinear().domain([-90,90]).range([b.b,b.t]);
 grid(p.bg,b,tickDates,latTicks,x,y,"#b0b0b0",1,null,.4);
 p.plot.selectAll(null).data(latRuns).join("line").attr("x1",d=>x(dt(d[0]))).attr("x2",d=>x(dt(d[0]))).attr("y1",d=>y(d[1])).attr("y2",d=>y(d[2]))
  .attr("stroke","#000").attr("stroke-width",5.6).attr("stroke-linecap","round");
 axes(p,b,x,y,tickDates,dateFmt,latTicks,fmtNum,true);
 ylabel(p,809,574,"Latitude (deg)");
}
// Altitude
{
 const b={l:83.3,r:789,t:809,b:1115};
 const p=panel(b,"Balloon Altitude vs. Time");
 const x=d3.scaleUtc().domain([dt(5.64),dt(121.55)]).range([b.l,b.r]),y=d3.scaleLinear().domain([8303,13445]).range([b.b,b.t]);
 grid(p.bg,b,tickDates,altTicks,x,y,"#b0b0b0",1,null,.4);
 p.plot.selectAll(null).data(altRuns).join("line").attr("x1",d=>x(dt(d[0]))).attr("x2",d=>x(dt(d[0]))).attr("y1",d=>y(d[1])).attr("y2",d=>y(d[2]))
  .attr("stroke","#7f8c8d").attr("stroke-width",d=>d[1]===d[2]?3.8:6.5).attr("stroke-linecap","round");
 p.plot.append("path").datum(altDailyDays).attr("d",d3.line().x(d=>x(dt(d))).y((d,i)=>y(altDailyMean[i]))).attr("fill","none").attr("stroke",RED).attr("stroke-width",1.9);
 axes(p,b,x,y,tickDates,dateFmt,altTicks,d=>String(d),true);
 ylabel(p,16,962,"Altitude (m AMSL)");xlabel(p,436,1172,"UTC date");
}
// Histogram
{
 const b={l:861.5,r:1567.5,t:809,b:1115};
 const p=panel(b,"U and V Wind Components");
 const x=d3.scaleLinear().domain([-100,100]).range([b.l,b.r]),y=d3.scaleLinear().domain([0,549.4]).range([b.b,b.t]);
 grid(p.bg,b,histXTicks,histYTicks,x,y,"#b0b0b0",1,null,.4);
 const bars=(vals,col)=>p.plot.append("g").selectAll("rect").data(vals).join("rect")
   .attr("x",(d,i)=>x(histBinStarts[i])).attr("width",(d,i)=>x(histBinStarts[i]+histBinWidth)-x(histBinStarts[i]))
   .attr("y",d=>y(d)).attr("height",d=>y(0)-y(d)).attr("fill",col).attr("opacity",d=>d>0?.65:0).attr("stroke","#000").attr("stroke-width",1.1);
 bars(uCounts,"#1f77b4");bars(vCounts,"#ff7f0e");
 axes(p,b,x,y,histXTicks,fmtNum,histYTicks,String,false);
 ylabel(p,812,962,"Frequency");
 const xl=xlabel(p,1214.5,1155,"Wind speed (m s");xl.append("tspan").attr("dy","-0.4em").attr("font-size",10).text("\u22121");xl.append("tspan").attr("dy","0.4em").text(")");
 legendBox(p,1443,815,115,33.5);
 [["#1f77b4",819.5,824,"U (zonal)"],["#ff7f0e",834.5,839,"V (meridional)"]].forEach(r=>{
  p.front.append("rect").attr("x",1446.5).attr("y",r[1]).attr("width",22.5).attr("height",8).attr("fill",r[0]).attr("opacity",.65).attr("stroke","#000").attr("stroke-width",1.1);
  legendText(p,1477.5,r[2],r[3]);
 });
}
</script></body></html>
